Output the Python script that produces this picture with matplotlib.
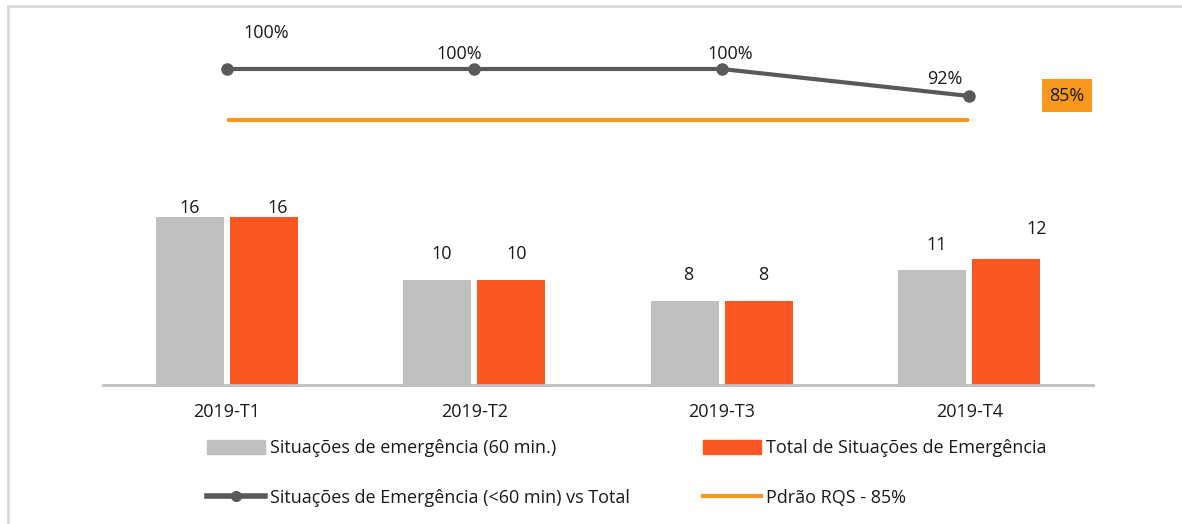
import matplotlib
matplotlib.use("Agg")
import matplotlib.pyplot as plt
from matplotlib.lines import Line2D
from matplotlib.patches import Patch
import numpy as np

plt.rcParams['font.family'] = ['Open Sans', 'DejaVu Sans']

# ---- data ----
quarters = ["2019-T1", "2019-T2", "2019-T3", "2019-T4"]
within_60 = [16, 10, 8, 11]
total_emerg = [16, 10, 8, 12]
pct_within = [100, 100, 100, 92]
target_pct = 85

series_labels = [
    "Situações de emergência (60 min.)",
    "Total de Situações de Emergência",
    "Situações de Emergência (<60 min) vs Total",
    "Pdrão RQS - 85%",
]

# ---- styling ----
C_GRAY = "#bfbfbf"
C_RED = "#fa5722"
C_LINE = "#595959"
C_TARGET = "#f7991f"
C_FRAME = "#d9d9d9"
C_TEXT = "#1a1a1a"
FS = 13

W, H, DPI = 1182, 524, 100
fig = plt.figure(figsize=(W / DPI, H / DPI), dpi=DPI)


def px_axes(x0, y0, x1, y1):
    """Axes from pixel box (top-left origin)."""
    return fig.add_axes([x0 / W, 1 - y1 / H, (x1 - x0) / W, (y1 - y0) / H])


# thin frame on the left and top
fig.add_artist(Line2D([8 / W, 8 / W], [0, 1 - 6 / H], color=C_FRAME, lw=2))
fig.add_artist(Line2D([8 / W, 1], [1 - 6 / H, 1 - 6 / H], color=C_FRAME, lw=2))

x = np.arange(len(quarters))

# ---- bars ----
axb = px_axes(103, 175, 1093, 385)
axb.set_xlim(-0.5, len(quarters) - 0.5)
axb.set_ylim(0, 20)
bw = 0.275
off = 0.15
b1 = axb.bar(x - off, within_60, bw, color=C_GRAY)
b2 = axb.bar(x + off, total_emerg, bw, color=C_RED)
for s in ["top", "right", "left"]:
    axb.spines[s].set_visible(False)
axb.spines["bottom"].set_color(C_GRAY)
axb.spines["bottom"].set_linewidth(2)
axb.set_yticks([])
axb.set_xticks(x)
axb.set_xticklabels(quarters, fontsize=FS, color=C_TEXT)
axb.tick_params(axis="x", length=0, pad=13)

gray_lift = [(0, 9), (5, 26), (4, 26), (5, 24)]
red_lift = [(14, 9), (5, 26), (4, 26), (30, 30)]
for rect, v, (dx, dy) in zip(b1, within_60, gray_lift):
    axb.annotate(str(v), (rect.get_x() + rect.get_width() / 2, v),
                 xytext=(dx, dy), textcoords="offset pixels",
                 ha="center", va="center", fontsize=FS, color=C_TEXT)
for rect, v, (dx, dy) in zip(b2, total_emerg, red_lift):
    axb.annotate(str(v), (rect.get_x() + rect.get_width() / 2, v),
                 xytext=(dx, dy), textcoords="offset pixels",
                 ha="center", va="center", fontsize=FS, color=C_TEXT)

# ---- percentage line ----
axl = px_axes(103, 20, 1093, 140)
axl.set_xlim(-0.5, len(quarters) - 0.5)
axl.set_ylim(100 - (140 - 69) / 3.375, 100 + (69 - 20) / 3.375)
axl.axis("off")
axl.plot(x, [target_pct] * len(x), color=C_TARGET, lw=3, solid_capstyle="butt")
axl.plot(x, pct_within, color=C_LINE, lw=3, marker="o", ms=8)
pct_offsets = [(39, 36), (-15, 15), (8, 15), (-24, 17)]
for xi, v, (dx, dy) in zip(x, pct_within, pct_offsets):
    axl.annotate(f"{v}%", (xi, v), xytext=(dx, dy), textcoords="offset pixels",
                 ha="center", va="center", fontsize=FS, color=C_TEXT)
axl.annotate(f"{target_pct}%", (len(quarters) - 1, target_pct),
             xytext=(98, 24), textcoords="offset pixels",
             ha="center", va="center", fontsize=FS, color=C_TEXT,
             bbox=dict(boxstyle="square,pad=0.42", fc=C_TARGET, ec="none"))

# ---- legend ----
handles = [
    Patch(color=C_GRAY),
    Line2D([0], [0], color=C_LINE, lw=4, marker="o", ms=7, markevery=[1]),
    Patch(color=C_RED),
    Line2D([0], [0], color=C_TARGET, lw=3),
]
labels = [series_labels[0], series_labels[2], series_labels[1], series_labels[3]]
leg = fig.legend(handles, labels, ncol=2, loc="upper left",
                 bbox_to_anchor=(207 / W, 1 - 439 / H), frameon=False,
                 fontsize=FS, handlelength=3.2, handleheight=0.85,
                 handletextpad=0.28, labelspacing=1.76, columnspacing=4.05,
                 borderaxespad=0, borderpad=0)
for t in leg.get_texts():
    t.set_color(C_TEXT)

fig.savefig("out.png", dpi=DPI)
